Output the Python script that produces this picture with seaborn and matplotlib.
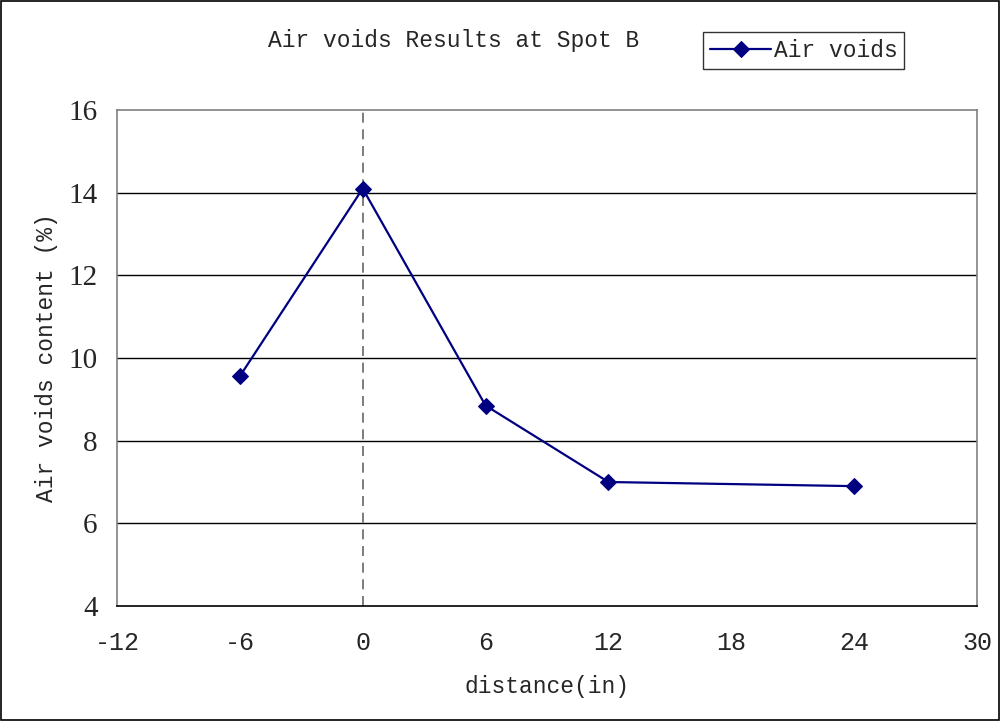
import matplotlib
matplotlib.use("Agg")
import matplotlib.pyplot as plt
import seaborn as sns
import pandas as pd
from matplotlib.patches import Rectangle

# Measured air voids content along the distance from the joint
distance_in = [-6, 0, 6, 12, 24]
air_voids_pct = [9.56, 14.1, 8.85, 7.0, 6.9]

x_ticks = [-12, -6, 0, 6, 12, 18, 24, 30]
y_ticks = [4, 6, 8, 10, 12, 14, 16]

df = pd.DataFrame({"distance": distance_in, "air_voids": air_voids_pct})

sns.set_style("white")
mono = ["Liberation Mono", "DejaVu Sans Mono"]
serif = ["Liberation Serif", "DejaVu Serif"]

fig = plt.figure(figsize=(10.01, 7.21), dpi=100)
ax = fig.add_axes([0.1169, 0.1595, 0.8591, 0.6879])

for y in y_ticks[1:-1]:
    ax.axhline(y, color="black", lw=1.0, zorder=1)
ax.axvline(0, color="#666666", lw=1.2, ls=(0, (6, 4)), zorder=1)

sns.lineplot(data=df, x="distance", y="air_voids", ax=ax, color="#000080",
             lw=1.6, marker="D", markersize=8, markeredgecolor="#000080",
             label="Air voids", zorder=3, legend=False)

ax.set_xlim(-12, 30)
ax.set_ylim(4, 16)
ax.set_xticks(x_ticks)
ax.set_yticks(y_ticks)
ax.set_xticklabels([str(v) for v in x_ticks], family=mono, fontsize=18)
ax.set_yticklabels([str(v) for v in y_ticks], family=serif, fontsize=21)
ax.tick_params(axis="x", direction="in", length=9, width=1, color="black", pad=18)
ax.tick_params(axis="y", direction="out", length=0, pad=14)

for side in ["top", "right", "left"]:
    ax.spines[side].set_color("#808080")
    ax.spines[side].set_linewidth(1.2)
ax.spines["bottom"].set_color("black")
ax.spines["bottom"].set_linewidth(1.2)

ax.set_xlabel("distance(in)", family=mono, fontsize=16.5)
ax.set_ylabel("Air voids content (%)", family=mono, fontsize=16.5)
ax.xaxis.set_label_coords(0.5, -0.139)
ax.yaxis.set_label_coords(-0.069, 0.5)

fig.text(0.453, 0.944, "Air voids Results at Spot B", family=mono, fontsize=16.5,
         ha="center", va="center")

handles, labels = ax.get_lines()[-1:], ["Air voids"]
leg = fig.legend(handles, labels, loc="upper left", bbox_to_anchor=(0.702, 0.955),
                 prop={"family": mono, "size": 16.5}, frameon=True, fancybox=False,
                 handlelength=2.7, handletextpad=0.1, borderpad=0.3,
                 borderaxespad=0)
leg.get_frame().set_edgecolor("black")
leg.get_frame().set_linewidth(1.0)

fig.patches.append(Rectangle((0.0005, 0.001), 0.998, 0.998, transform=fig.transFigure,
                             fill=False, edgecolor="black", lw=1.2))

fig.savefig("out.png", dpi=100)
